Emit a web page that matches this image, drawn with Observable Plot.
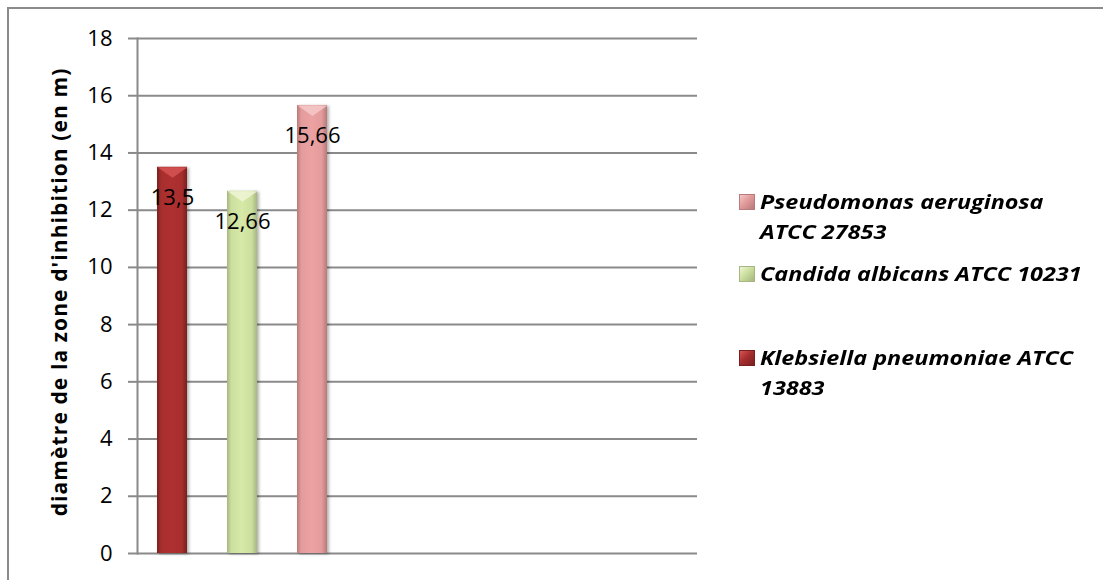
<!DOCTYPE html>
<html>
<head>
<meta charset="utf-8">
<script src="https://cdn.jsdelivr.net/npm/d3@7"></script>
<script src="https://cdn.jsdelivr.net/npm/@observablehq/plot@0.6"></script>
<style>
  html, body { margin: 0; padding: 0; background: #fff; overflow: hidden; }
  #page { position: relative; width: 1103px; height: 580px; overflow: hidden; font-family: "Open Sans", Lato, sans-serif; }
  #border { position: absolute; left: 7px; top: 7px; width: 1200px; height: 700px; border-left: 2px solid #8a8a8a; border-top: 2px solid #8a8a8a; }
  #chart { position: absolute; left: 0; top: 0; }
  #legend { position: absolute; left: 739px; top: 187px; }
  .item { display: flex; align-items: flex-start; }
  .sw { width: 16px; height: 16px; margin-top: 7px; margin-right: 5px; flex: none; box-sizing: border-box; }
  .lbl { font-weight: bold; font-style: italic; font-size: 19.5px; line-height: 30px; color: #000; white-space: nowrap; transform: scaleX(1.2); transform-origin: 0 0; }
</style>
</head>
<body>
<div id="page">
  <div id="border"></div>
  <div id="chart"></div>
  <div id="legend"></div>
</div>
<script>
// Zone-of-inhibition diameters per strain
const strains = ["Klebsiella pneumoniae ATCC 13883", "Candida albicans ATCC 10231", "Pseudomonas aeruginosa ATCC 27853"];
const diameters = [13.5, 12.66, 15.66];
const yTicks = [0, 2, 4, 6, 8, 10, 12, 14, 16, 18];
const yTitle = "diamètre de la zone d'inhibition (en m)";

// Bar palette: base, dark edge, highlight of the top bevel
const baseColors = ["#a82e2e", "#cddf9f", "#e39b9b"];
const edgeColors = ["#7a1f1f", "#a6b680", "#b87a7a"];
const capColors = ["#d65454", "#eff5d6", "#f4c9c9"];

// Legend entries, top to bottom, with their line breaks
const legendOrder = [2, 1, 0];
const legendLines = [
  ["Pseudomonas aeruginosa", "ATCC 27853"],
  ["Candida albicans ATCC 10231"],
  ["Klebsiella pneumoniae ATCC", "13883"]
];

const data = strains.map((name, i) => ({name, value: diameters[i], i}));

// Downward wedge drawn at the top of each bar
const wedge = {
  draw(context, size) {
    const r = Math.sqrt(size / Math.PI);
    context.moveTo(-r, 0);
    context.lineTo(r, 0);
    context.lineTo(0, r * 0.7);
    context.closePath();
  }
};

const comma = v => String(v).replace(".", ",");

const chart = Plot.plot({
  width: 1103,
  height: 580,
  marginLeft: 137,
  marginRight: 406,
  marginTop: 38,
  marginBottom: 27,
  style: {fontFamily: "'Open Sans', Lato, sans-serif", color: "#000", background: "transparent"},
  x: {type: "band", domain: strains, range: [137, 347], paddingInner: 4 / 7, paddingOuter: 2 / 7, axis: null},
  y: {domain: [0, 18]},
  marks: [
    Plot.gridY(yTicks, {stroke: "#8a8a8a", strokeOpacity: 1, strokeWidth: 2}),
    Plot.frame({anchor: "left", stroke: "#8a8a8a", strokeWidth: 2}),
    Plot.axisY({ticks: yTicks, tickSize: 9, tickPadding: 16, stroke: "#8a8a8a", strokeWidth: 2, fontSize: 22, label: null, tickFormat: d => String(d)}),
    Plot.text([yTitle], {frameAnchor: "left", textAnchor: "middle", rotate: -90, dx: -77, dy: -4, fontSize: 21, fontWeight: "bold", fill: "#000"}),
    ...data.map(d => Plot.barY([d], {x: "name", y: "value", fill: `url(#grad${d.i})`})),
    ...data.map(d => Plot.dot([d], {x: "name", y: "value", symbol: wedge, r: 15, fill: capColors[d.i], fillOpacity: 0.85, stroke: null})),
    Plot.text(data, {x: "name", y: "value", text: d => comma(d.value), dy: 31, fontSize: 22, fill: "#000"})
  ]
});

// Cylinder-like horizontal shading for the bars
const defs = d3.select(chart).insert("defs", ":first-child");
baseColors.forEach((c, i) => {
  const g = defs.append("linearGradient").attr("id", `grad${i}`).attr("x1", 0).attr("x2", 1).attr("y1", 0).attr("y2", 0);
  g.append("stop").attr("offset", "0%").attr("stop-color", edgeColors[i]);
  g.append("stop").attr("offset", "14%").attr("stop-color", c);
  g.append("stop").attr("offset", "50%").attr("stop-color", d3.color(c).brighter(0.12));
  g.append("stop").attr("offset", "82%").attr("stop-color", c);
  g.append("stop").attr("offset", "100%").attr("stop-color", edgeColors[i]);
});
d3.select(chart).selectAll("g[aria-label=bar]").style("filter", "drop-shadow(2px 1px 1.5px rgba(0,0,0,0.3))");
// Slightly wider tracking for the axis title
d3.select(chart).selectAll("text").filter(function() { return this.textContent === yTitle; }).style("letter-spacing", "1.1px");

document.getElementById("chart").appendChild(chart);

// Legend
const legend = d3.select("#legend");
const gaps = [0, 12, 54];
legendOrder.forEach((si, k) => {
  const item = legend.append("div").attr("class", "item").style("margin-top", gaps[k] + "px");
  item.append("div").attr("class", "sw")
    .style("background", `linear-gradient(135deg, ${capColors[si]} 0%, ${baseColors[si]} 45%, ${edgeColors[si]} 100%)`)
    .style("border", `1px solid ${edgeColors[si]}`);
  const lbl = item.append("div").attr("class", "lbl");
  legendLines[k].forEach(line => lbl.append("div").text(line));
});
</script>
</body>
</html>
